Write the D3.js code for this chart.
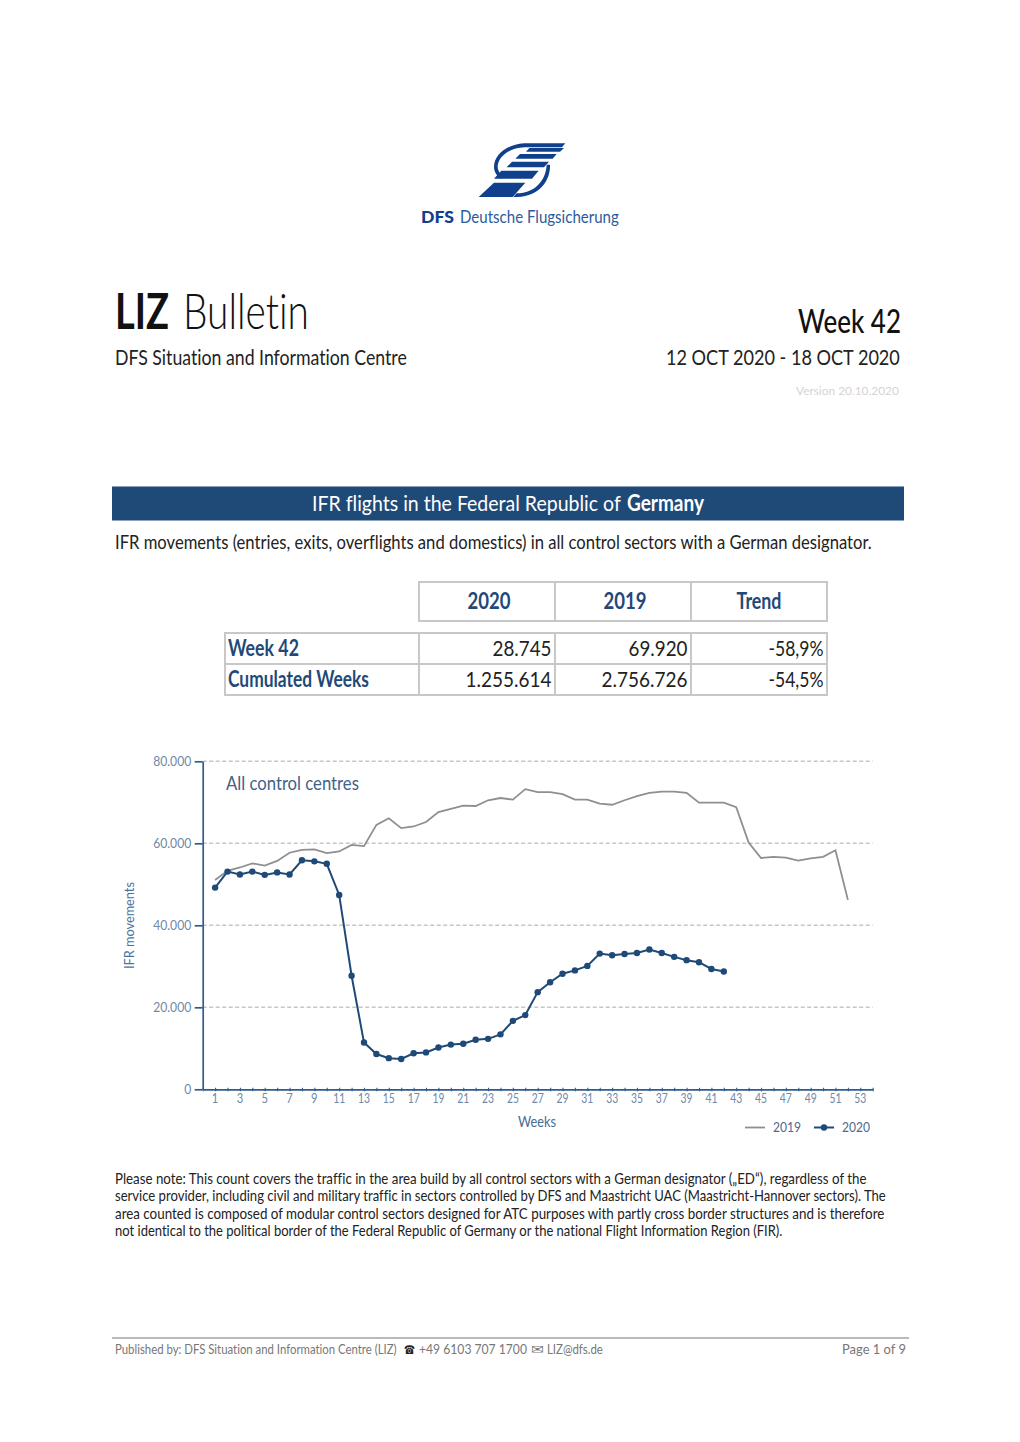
<!DOCTYPE html>
<html><head><meta charset="utf-8">
<script src="https://cdn.jsdelivr.net/npm/d3@7/dist/d3.min.js"></script>
<style>html,body{margin:0;padding:0;background:#fff}svg{display:block}
text{font-family:Lato,"Liberation Sans",sans-serif;font-variant-ligatures:none}</style></head>
<body><svg id="c" width="1020" height="1442"></svg>
<script>
const weeks=d3.range(1,54);
const values2019=[51.05,53.3,54.1,55.1,54.55,55.7,57.7,58.4,58.5,57.6,58.0,59.6,59.3,64.5,66.1,63.7,64.1,65.2,67.6,68.4,69.2,69.1,70.5,71.05,70.65,73.2,72.5,72.5,72.0,70.65,70.65,69.7,69.4,70.5,71.5,72.3,72.6,72.6,72.3,69.9,69.9,69.9,68.8,60.2,56.4,56.7,56.5,55.8,56.3,56.7,58.3,46.2].map(v=>v*1000);
const values2020=[49.2,53.1,52.4,53.1,52.3,52.9,52.4,55.85,55.6,55.0,47.4,27.7,11.4,8.6,7.6,7.4,8.8,9.0,10.2,10.9,11.1,12.1,12.3,13.4,16.7,18.1,23.7,26.1,28.2,29.0,30.1,33.1,32.7,33.0,33.25,34.1,33.25,32.3,31.5,31.0,29.35,28.745].map(v=>v*1000);
const yTicks=[0,20000,40000,60000,80000];
const tableCols=["2020","2019","Trend"];
const tableHeadW=[43,43,45];
const tableRows=["Week 42","Cumulated Weeks"];
const tableRowW=[71,141];
const tableData=[["28.745","69.920","-58,9%"],["1.255.614","2.756.726","-54,5%"]];
const tableDataW=[[59,59,55],[86,86,55]];
const noteLines=["Please note: This count covers the traffic in the area build by all control sectors with a German designator („ED“), regardless of the","service provider, including civil and military traffic in sectors controlled by DFS and Maastricht UAC (Maastricht-Hannover sectors). The","area counted is composed of modular control sectors designed for ATC purposes with partly cross border structures and is therefore","not identical to the political border of the Federal Republic of Germany or the national Flight Information Region (FIR)."];
const noteW=[752,772,770,668];

const svg=d3.select("#c");
const NAVY="#1f4a78",AX="#2f5c8c",TICK="#6d88a8",GRID="#c6c6c6",GR="#8f8f8f";
// Fit a text to a width by scaling it horizontally, so its box on the page stays true.
function fit(t,x,y,w,rot){
  const len=t.node().getComputedTextLength();
  t.attr("x",0).attr("y",0).attr("transform",`translate(${x},${y})${rot?` rotate(${rot})`:""} scale(${w/len},1)`);
}
function T(x,y,s,size,fill,opt={}){
  const t=svg.append("text").attr("x",x).attr("y",y).attr("font-size",size).attr("fill",fill).text(s);
  if(opt.weight)t.attr("font-weight",opt.weight);
  if(opt.family)t.attr("font-family",opt.family);
  if(opt.w)fit(t,x,y,opt.w,opt.rot);
  return t;
}
// logo (drawn in the crop's 3x space)
const logo=svg.append("g").attr("transform","translate(400,130) scale(0.3333)").attr("fill","#10408c");
[
"M496 40 L372 40 C318 44 283 75 282 110 C282 125 290 138 303 146 L310 138 C298 130 292 120 293 108 C296 78 328 54 374 52 L486 52 Z",
"M492 54 L388 54 L378 65 L480 65 Z",
"M470 72 L360 72 L346 86 L458 86 Z",
"M447 95 L336 95 L320 112 L432 112 Z",
"M416 122 L304 122 L282 146 L396 146 Z",
"M376 158 L282 158 L236 201 L338 201 Z",
"M440 104 L450 104 C452 150 420 198 352 201 L340 201 L350 190 C405 190 438 150 440 104 Z"
].forEach(d=>logo.append("path").attr("d",d));
T(421,223,"DFS",17,"#10408c",{weight:"900",w:33});
T(460,223,"Deutsche Flugsicherung",18,"#2a5c9c",{w:159});
// header
T(115,329,"LIZ",49,"#111",{weight:"700",w:54});
T(183,329,"Bulletin",49,"#111",{weight:"300",w:126});
T(798,333,"Week 42",33,"#111",{w:103,weight:"500"});
T(115,365,"DFS Situation and Information Centre",21,"#222",{w:292});
T(666,365,"12 OCT 2020 - 18 OCT 2020",21,"#222",{w:234});
T(796,395,"Version 20.10.2020",12,"#d4d4d4",{w:103});
// band
svg.append("rect").attr("x",112).attr("y",486.5).attr("width",792).attr("height",34).attr("fill",NAVY);
T(312,511,"IFR flights in the Federal Republic of",22,"#fff",{w:309});
T(627,511,"Germany",22,"#fff",{weight:"bold",w:77});
T(115,549,"IFR movements (entries, exits, overflights and domestics) in all control sectors with a German designator.",18.5,"#222",{w:757});
// table
const tx=d3.scaleOrdinal().domain(tableCols).range([419,555,691]);
const colW=136, B="#c8c8c8";
function cell(x,y,w,h){svg.append("rect").attr("x",x).attr("y",y).attr("width",w).attr("height",h).attr("fill","#fff").attr("stroke",B).attr("stroke-width",2);}
tableCols.forEach((c,j)=>{cell(tx(c),582,colW,39);
  T(tx(c)+colW/2-tableHeadW[j]/2+(j<2?2:0),609,c,23,NAVY,{weight:"bold",w:tableHeadW[j]});});
tableRows.forEach((r,i)=>{const y=633+i*31;
  cell(225,y,194,31);
  T(228,y+23,r,23,NAVY,{weight:"bold",w:tableRowW[i]});
  tableCols.forEach((c,j)=>{cell(tx(c),y,colW,31);
    T(tx(c)+colW-3.5-tableDataW[i][j],y+23,tableData[i][j],21.5,"#222",{w:tableDataW[i][j]});});
});
// chart
const x=d3.scaleLinear().domain([0,54]).range([202.7,872.7]);
const y=d3.scaleLinear().domain([0,80000]).range([1089.3,761.3]);
const fmt=v=>d3.format(",")(v).replace(/,/g,".");
const gridG=svg.append("g");
yTicks.filter(v=>v>0).forEach(v=>gridG.append("line").attr("x1",x(0)).attr("x2",x(54)).attr("y1",y(v)).attr("y2",y(v)).attr("stroke",GRID).attr("stroke-width",1.5).attr("stroke-dasharray","4 2.5"));
const gy=svg.append("g").attr("transform",`translate(${x(0)},0)`).call(d3.axisLeft(y).tickValues(yTicks).tickFormat(fmt).tickSize(8).tickSizeOuter(0));
gy.select(".domain").attr("stroke",AX).attr("stroke-width",1.7);
gy.selectAll(".tick line").attr("stroke",AX).attr("stroke-width",1.7);
gy.selectAll("text").attr("fill",TICK).attr("font-size",14).attr("font-family","Lato").attr("x",-11.5).attr("dy","0.32em")
  .each(function(d){d3.select(this).attr("textLength",d?38:7).attr("lengthAdjust","spacingAndGlyphs");});
const gx=svg.append("g").attr("transform",`translate(0,${y(0)})`).call(d3.axisBottom(x).tickValues(d3.range(0,55)).tickFormat(v=>(v%2===1)?v:"").tickSize(2).tickSizeOuter(0));
gx.select(".domain").attr("stroke",AX).attr("stroke-width",1.7);
gx.selectAll(".tick line").attr("stroke",AX).attr("stroke-width",1.1).attr("y1",-1.5).attr("y2",2);
gx.selectAll("text").attr("fill",TICK).attr("font-size",12.5).attr("font-family","Lato").attr("y",5).attr("x",-0.5)
  .each(function(d){d3.select(this).attr("textLength",d<10?6.5:12).attr("lengthAdjust","spacingAndGlyphs");});
const line=d3.line().x((d,i)=>x(weeks[i])).y(d=>y(d));
svg.append("path").attr("d",line(values2019)).attr("fill","none").attr("stroke",GR).attr("stroke-width",1.8);
svg.append("path").attr("d",line(values2020)).attr("fill","none").attr("stroke",NAVY).attr("stroke-width",2);
svg.selectAll(".pt").data(values2020).join("circle").attr("class","pt").attr("cx",(d,i)=>x(weeks[i])).attr("cy",d=>y(d)).attr("r",3.2).attr("fill",NAVY);
T(226,790,"All control centres",18.5,"#3f6288",{w:133});
T(134,969,"IFR movements",14,"#4a739c",{w:87,rot:-90});
T(518,1127,"Weeks",15,"#4a6a90",{w:38});
svg.append("line").attr("x1",745).attr("x2",765).attr("y1",1127.5).attr("y2",1127.5).attr("stroke",GR).attr("stroke-width",1.8);
T(773,1132,"2019",14,"#4a6a90",{w:28});
svg.append("line").attr("x1",814).attr("x2",834).attr("y1",1127.5).attr("y2",1127.5).attr("stroke",NAVY).attr("stroke-width",2);
svg.append("circle").attr("cx",824).attr("cy",1127.5).attr("r",3.2).attr("fill",NAVY);
T(842,1132,"2020",14,"#4a6a90",{w:28});
// note
noteLines.forEach((s,i)=>T(115,1184+i*17.4,s,14.5,"#222",{w:noteW[i]}));
// footer
svg.append("line").attr("x1",112).attr("x2",909).attr("y1",1338).attr("y2",1338).attr("stroke","#777").attr("stroke-width",1.2);
T(115,1354,"Published by: DFS Situation and Information Centre (LIZ)",13,"#777",{w:282});
T(403.5,1354,"☎",12,"#222",{family:"DejaVu Sans",w:11});
T(419,1354,"+49 6103 707 1700",13,"#777",{w:108});
T(530.5,1354,"✉",13,"#777",{family:"DejaVu Sans",w:13});
T(547,1354,"LIZ@dfs.de",13,"#777",{w:56});
T(842,1354,"Page  1 of 9",13,"#777",{w:64});
</script></body></html>
